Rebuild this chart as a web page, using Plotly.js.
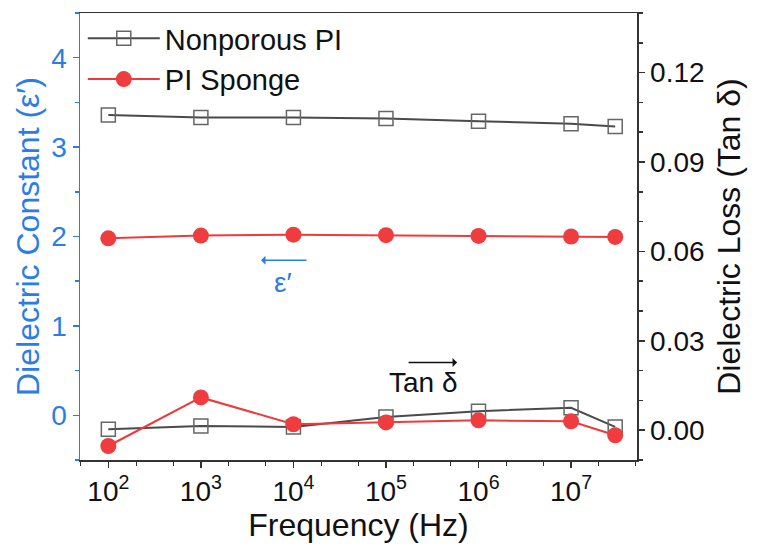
<!DOCTYPE html>
<html>
<head>
<meta charset="utf-8">
<script src="https://cdn.plot.ly/plotly-3.0.1.min.js"></script>
<style>
  html, body { margin: 0; padding: 0; background: #fff; }
  #chart { width: 760px; height: 553px; }
</style>
</head>
<body>
<div id="chart"></div>
<script>
// frequencies (Hz)
var freq = [1e2, 1e3, 1e4, 1e5, 1e6, 1e7, 3e7];

// dielectric constant (left axis)
var epsNonporous = [3.36, 3.33, 3.33, 3.32, 3.29, 3.26, 3.23];
var epsSponge = [1.98, 2.01, 2.02, 2.015, 2.006, 2.0, 1.995];

// tan delta (right axis)
var tanNonporous = [0.0003, 0.0014, 0.0011, 0.0044, 0.0064, 0.0075, 0.0011];
var tanSponge = [-0.0053, 0.011, 0.0020, 0.0026, 0.0033, 0.0030, -0.0017];

var xTickVals = [1e2, 1e3, 1e4, 1e5, 1e6, 1e7];
var xTickText = ["10<sup>2</sup>", "10<sup>3</sup>", "10<sup>4</sup>", "10<sup>5</sup>", "10<sup>6</sup>", "10<sup>7</sup>"];

var blue = "#2b7de6";
var grayLine = "#4a4a4a";
var red = "#f03a3a";
var font = "Liberation Sans, Arial, sans-serif";

var squareStyle = {
  line: { color: grayLine, width: 2 },
  marker: { symbol: "square-open", size: 14, color: "#666", line: { width: 1.5 } }
};
var circleStyle = {
  line: { color: red, width: 2 },
  marker: { symbol: "circle", size: 16, color: "#ee3c3f" }
};

var data = [
  Object.assign({ x: freq, y: epsNonporous, name: "Nonporous PI", mode: "lines+markers", yaxis: "y" }, squareStyle),
  Object.assign({ x: freq, y: epsSponge, name: "PI Sponge", mode: "lines+markers", yaxis: "y" }, circleStyle),
  Object.assign({ x: freq, y: tanNonporous, name: "Nonporous PI", mode: "lines+markers", yaxis: "y2", showlegend: false }, squareStyle),
  Object.assign({ x: freq, y: tanSponge, name: "PI Sponge", mode: "lines+markers", yaxis: "y2", showlegend: false }, circleStyle)
];

var layout = {
  width: 760,
  height: 553,
  margin: { l: 80, r: 123, t: 13, b: 93 },
  paper_bgcolor: "#fff",
  plot_bgcolor: "#fff",
  font: { family: font, size: 28, color: "#111" },
  showlegend: true,
  legend: {
    x: 0.005, y: 1.0, xanchor: "left", yanchor: "top",
    bgcolor: "rgba(0,0,0,0)",
    font: { size: 29, color: "#111" },
    itemwidth: 72,
    tracegroupgap: 0
  },
  xaxis: {
    type: "log",
    range: [Math.log10(49.4), Math.log10(5.16e7)],
    tickvals: xTickVals,
    ticktext: xTickText,
    ticks: "outside",
    ticklen: 6,
    tickwidth: 1.5,
    tickcolor: "#333",
    tickfont: { size: 28, color: "#111" },
    showline: true,
    linecolor: "#333",
    linewidth: 1.5,
    mirror: true,
    showgrid: false,
    zeroline: false,
    minor: { ticks: "outside", ticklen: 4, tickcolor: "#333", tickwidth: 1, showgrid: false },
    title: { text: "Frequency (Hz)", font: { size: 32, color: "#111" }, standoff: 2 }
  },
  yaxis: {
    range: [-0.5, 4.5],
    tickvals: [0, 1, 2, 3, 4],
    ticks: "outside",
    ticklen: 6,
    tickwidth: 1.5,
    tickcolor: blue,
    tickfont: { color: blue, size: 28 },
    showline: true,
    linecolor: blue,
    linewidth: 1.5,
    showgrid: false,
    zeroline: false,
    minor: { dtick: 0.5, ticks: "outside", ticklen: 4, tickcolor: blue, showgrid: false },
    title: { text: "Dielectric Constant (ε′)", font: { size: 32, color: blue }, standoff: 2 }
  },
  yaxis2: {
    overlaying: "y",
    side: "right",
    range: [-0.01, 0.14],
    tickvals: [0, 0.03, 0.06, 0.09, 0.12],
    ticktext: ["0.00", "0.03", "0.06", "0.09", "0.12"],
    ticks: "outside",
    ticklen: 6,
    tickwidth: 1.5,
    tickcolor: "#333",
    tickfont: { color: "#111", size: 28 },
    showline: true,
    linecolor: "#333",
    linewidth: 1.5,
    showgrid: false,
    zeroline: false,
    minor: { dtick: 0.01, ticks: "outside", ticklen: 4, tickcolor: "#333", showgrid: false },
    title: { text: "Dielectric Loss (Tan δ)", font: { size: 32, color: "#111" }, standoff: 14 }
  },
  annotations: [
    { xref: "paper", yref: "paper", x: 0.3645, y: 0.396, text: "ε′", showarrow: false,
      font: { size: 28, color: blue } },
    { xref: "paper", yref: "paper", x: 0.325, y: 0.447, text: "", showarrow: true,
      ax: 47, ay: 0, arrowhead: 1, arrowsize: 1, arrowwidth: 1.5, arrowcolor: blue },
    { xref: "paper", yref: "paper", x: 0.616, y: 0.135, text: "Tan δ", showarrow: false,
      font: { size: 28, color: "#111" } },
    { xref: "paper", yref: "paper", x: 0.677, y: 0.218, text: "", showarrow: true,
      ax: -50, ay: 0, arrowhead: 1, arrowsize: 1, arrowwidth: 1.5, arrowcolor: "#111" }
  ]
};

Plotly.newPlot("chart", data, layout, { displayModeBar: false, staticPlot: true });
</script>
</body>
</html>
